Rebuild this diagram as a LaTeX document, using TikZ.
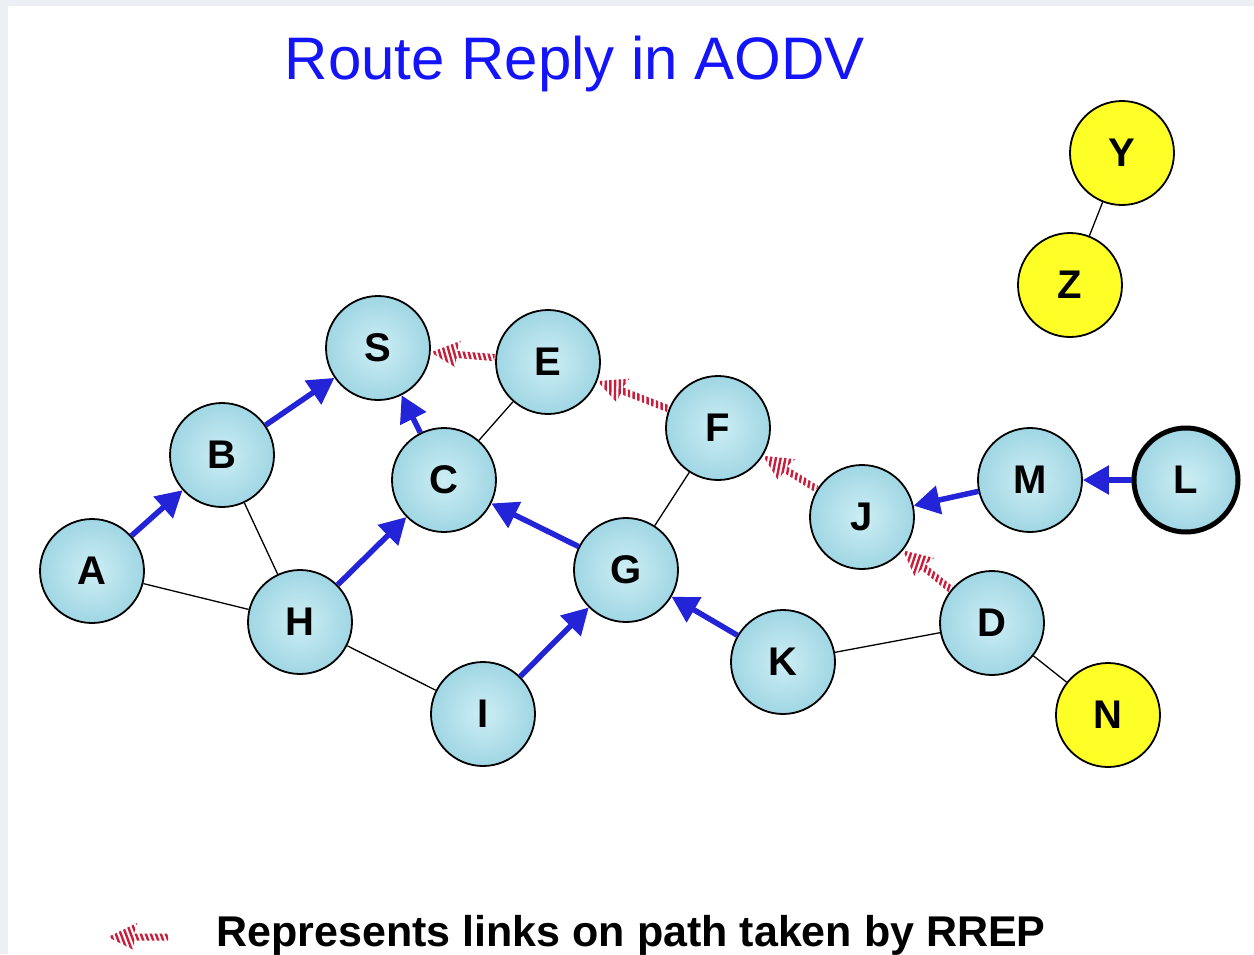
\documentclass[tikz,border=0pt]{standalone}
\usepackage{fontspec}
\setmainfont{Liberation Sans}
\usetikzlibrary{arrows.meta}
\definecolor{nodein}{RGB}{205,238,244}
\definecolor{nodeout}{RGB}{160,214,228}
\definecolor{ybg}{RGB}{255,255,40}
\definecolor{bluearrow}{RGB}{35,35,215}
\definecolor{rrepred}{RGB}{200,30,60}
\definecolor{titleblue}{RGB}{20,20,250}
\definecolor{framegray}{RGB}{236,239,244}
\tikzset{
  rrep/.pic={
    \begin{scope}
      \clip (0,0) -- (-26,-13) -- (-26,-3.5) -- (-#1,-3.5) -- (-#1,3.5) -- (-26,3.5) -- (-29,14) -- cycle;
      \foreach \i in {-95,-90,...,10} \draw[rrepred, line width=2.4pt] (\i,-16) -- (\i+12,16);
    \end{scope}
  }
}
\begin{document}
\begin{tikzpicture}[x=1pt,y=-1pt,
  net/.style={circle, draw=black, line width=1.8pt, minimum size=104pt, inner sep=0pt,
    inner color=nodein, outer color=nodeout, font=\fontsize{40}{40}\selectfont\bfseries},
  ynode/.style={circle, draw=black, line width=1.8pt, minimum size=104pt, inner sep=0pt,
    fill=ybg, font=\fontsize{40}{40}\selectfont\bfseries},
  link/.style={draw=black, line width=1.3pt},
  barrow/.style={draw=bluearrow, line width=5.5pt, -{Triangle[length=26pt,width=28pt]}},
]
\useasboundingbox (0,0) rectangle (1254,954);
\fill[framegray] (0,0) rectangle (1254,954);
\fill[white] (8,6) rectangle (1254,954);

\node[anchor=base, text=titleblue, font=\fontsize{60}{60}\selectfont] (title) at (575,79) {Route Reply in AODV};

\node[net] (S) at (378,348) {S};
\node[net] (E) at (548,362) {E};
\node[net] (B) at (222,455) {B};
\node[net] (C) at (444,480) {C};
\node[net] (F) at (718,428) {F};
\node[net] (J) at (862,517) {J};
\node[net] (M) at (1030,480) {M};
\node[net, line width=5pt] (L) at (1186,480) {L};
\node[net] (A) at (92,571) {A};
\node[net] (H) at (300,622) {H};
\node[net] (G) at (626,570) {G};
\node[net] (K) at (783,662) {K};
\node[net] (D) at (992,623) {D};
\node[net] (I) at (483,714) {I};
\node[ynode] (N) at (1108,715) {N};
\node[ynode] (Y) at (1122,153) {Y};
\node[ynode] (Z) at (1070,285) {Z};

% plain links
\draw[link] (B) -- (H);
\draw[link] (A) -- (H);
\draw[link] (H) -- (I);
\draw[link] (C) -- (E);
\draw[link] (F) -- (G);
\draw[link] (K) -- (D);
\draw[link] (D) -- (N);
\draw[link] (Y) -- (Z);

% blue arrows (reverse path)
\draw[barrow] (A) -- (B);
\draw[barrow] (B) -- (S);
\draw[barrow] (C) -- (S);
\draw[barrow] (H) -- (C);
\draw[barrow] (G) -- (C);
\draw[barrow] (I) -- (G);
\draw[barrow] (K) -- (G);
\draw[barrow] (M) -- (J);
\draw[barrow] (L) -- (M);

% RREP path
\path (E) -- (S) pic[pos=1, sloped, allow upside down]{rrep=64};
\path (F) -- (E) pic[pos=1, sloped, allow upside down]{rrep=76};
\path (J) -- (F) pic[pos=1, sloped, allow upside down]{rrep=63};
\path (D) -- (J) pic[pos=1, sloped, allow upside down]{rrep=62};

% legend
\pic[rotate=180] (legendarrow) at (108,937) {rrep=60};
\node[anchor=base west, font=\fontsize{43}{43}\selectfont\bfseries] (legend) at (213,946) {Represents links on path taken by RREP};
\end{tikzpicture}
\end{document}
